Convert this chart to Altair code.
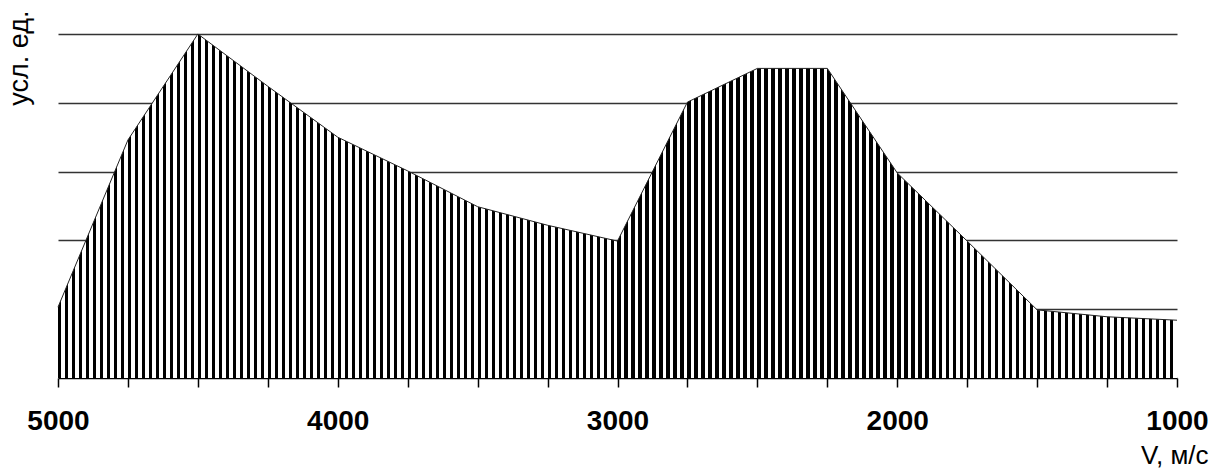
import altair as alt
import pandas as pd

# Data
velocity = [5000, 4750, 4500, 4250, 4000, 3750, 3500, 3250, 3000,
            2750, 2500, 2250, 2000, 1750, 1500, 1250, 1000]
amplitude = [1.03, 3.46, 5.0, 4.24, 3.5, 3.01, 2.49, 2.22, 1.99,
             4.01, 4.5, 4.5, 2.98, 1.99, 0.99, 0.89, 0.84]
x_ticks = list(range(1000, 5001, 250))
grid_levels = [1, 2, 3, 4, 5]

df = pd.DataFrame({"V": velocity, "A": amplitude})

# vertical hatch as a hard-stop linear gradient (style only)
n_stripes = 160
stops = []
for i in range(n_stripes):
    a = i / n_stripes
    b = (i + 0.47) / n_stripes
    c = (i + 1) / n_stripes
    stops += [
        alt.GradientStop(offset=a, color="black"),
        alt.GradientStop(offset=b, color="black"),
        alt.GradientStop(offset=b, color="white"),
        alt.GradientStop(offset=min(c, 1.0), color="white"),
    ]
hatch = alt.LinearGradient(gradient="linear", stops=stops, x1=0, x2=1, y1=0, y2=0)

FONT = "Liberation Sans"

x_enc = alt.X(
    "V:Q",
    scale=alt.Scale(domain=[1000, 5000], reverse=True, nice=False, zero=False),
    axis=alt.Axis(
        values=x_ticks,
        title="V, м/с",
        titleFont=FONT,
        titleFontSize=26,
        titleFontWeight="normal",
        titleColor="black",
        titleAnchor="end",
        titleAlign="right",
        titleBaseline="alphabetic",
        titleX=1150,
        titleY=85,
        labelExpr="datum.value % 1000 == 0 ? format(datum.value, 'd') : ''",
        labelFont=FONT,
        labelFontSize=28,
        labelFontWeight="bold",
        labelColor="black",
        labelPadding=20,
        labelFlush=False,
        labelOverlap=False,
        tickSize=9,
        tickColor="black",
        tickWidth=1.5,
        domainColor="black",
        domainWidth=1.5,
        grid=False,
    ),
)

y_enc = alt.Y(
    "A:Q",
    scale=alt.Scale(domain=[0, 5], nice=False, zero=True),
    axis=alt.Axis(
        values=grid_levels,
        title="усл. ед.",
        titleFont=FONT,
        titleFontSize=27,
        titleFontWeight="normal",
        titleColor="black",
        titleAngle=-90,
        titleAnchor="end",
        titleAlign="right",
        titleBaseline="alphabetic",
        titleX=-31,
        titleY=-24,
        labels=False,
        ticks=False,
        domain=False,
        grid=True,
        gridColor="#333333",
        gridWidth=1.5,
    ),
)

area = alt.Chart(df).mark_area(fill=hatch, interpolate="linear").encode(x=x_enc, y=y_enc)
edge = alt.Chart(df).mark_line(color="#222222", strokeWidth=1).encode(x="V:Q", y="A:Q")

chart = (
    alt.layer(area, edge)
    .properties(
        width=1119,
        height=344,
        padding={"left": 58, "top": 34, "right": 40, "bottom": 93},
        autosize="none",
        background="white",
    )
    .configure_view(stroke=None)
)

chart.save("out.html", embed_options={"renderer": "svg", "actions": False})
